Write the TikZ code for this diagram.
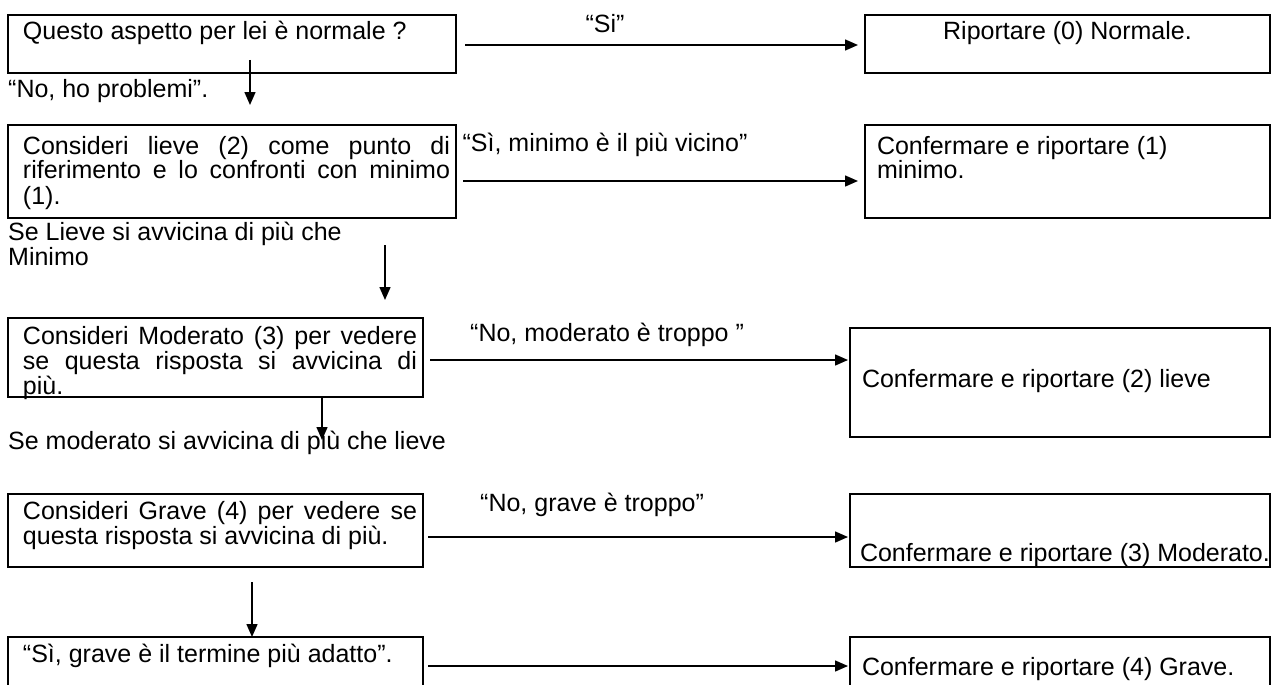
\documentclass[tikz,border=0pt]{standalone}
\usepackage{fontspec}
\setmainfont{Liberation Sans}
\usetikzlibrary{arrows.meta,calc}
% #1 left pad, #2 text width, #3 inner height, #4 inner pos, #5 right pad, #6 text
\newcommand\boxtext[6]{\hspace*{#1pt}\parbox[t][#3pt][#4]{#2pt}{\hyphenpenalty=10000\exhyphenpenalty=10000\tolerance=10000\spaceskip=\fontdimen2\font plus \fontdimen3\font minus 0pt\relax #6}\hspace*{#5pt}}
\newcommand\topstrut{\rule{0pt}{22pt}}
\begin{document}
\begin{tikzpicture}[x=1pt,y=-1pt,
  box/.style={draw,line width=1.8pt,anchor=north west,inner xsep=0pt,inner ysep=3pt,outer sep=0pt},
  lbl/.style={inner sep=0pt},
  arr/.style={line width=1.5pt,-{Triangle[length=13pt,width=11pt]}},
  font=\fontsize{25}{25}\selectfont]
\useasboundingbox (0,0) rectangle (1274,685);
\clip (0,0) rectangle (1274,685);
% left column
\node[box] (b1) at (8,15) {\boxtext{15}{427}{52}{t}{6}{\topstrut Questo aspetto per lei è normale ?}};
\node[box] (b2) at (8,125) {\boxtext{15}{427}{87}{t}{6}{\vspace*{4pt}\topstrut Consideri lieve (2) come punto di riferimento e lo confronti con minimo (1).}};
\node[box] (b3) at (8,318) {\boxtext{15}{394}{73}{t}{6}{\vspace*{1pt}\topstrut Consideri Moderato (3) per vedere se questa risposta si avvicina di più.}};
\node[box] (b4) at (8,494) {\boxtext{15}{394}{67}{t}{6}{\topstrut Consideri Grave (4) per vedere se questa risposta si avvicina di più.}};
\node[box] (b5) at (8,637) {\boxtext{15}{394}{94}{t}{6}{\topstrut “Sì, grave è il termine più adatto”.}};
% right column
\node[box] (r0) at (865,15) {\boxtext{6}{393}{52}{t}{6}{\centering\topstrut Riportare (0) Normale.}};
\node[box] (r1) at (865,125) {\boxtext{12}{387}{87}{t}{6}{\raggedright\vspace*{4pt}\topstrut Confermare e riportare (1)\\ minimo.}};
\node[box] (r2) at (850,328) {\boxtext{12}{403}{103}{c}{5}{\strut Confermare e riportare (2) lieve}};
\node[box] (r3) at (850,494) {\boxtext{10}{410}{67}{b}{0}{\mbox{Confermare e riportare (3) Moderato.}\par\vspace{-3pt}}};
\node[box] (r4) at (850,637) {\boxtext{12}{403}{94}{t}{5}{\vspace*{13pt}\topstrut Confermare e riportare (4) Grave.}};
% labels
\node[lbl] (l1) at (605,24) {“Si”};
\node[lbl,anchor=west] (l2) at (8,91) {“No, ho problemi”.};
\node[lbl] (l3) at (605,145) {“Sì, minimo è il più vicino”};
\node[lbl,anchor=north west,align=left] (l4) at (8,222) {Se Lieve si avvicina di più che\\Minimo};
\node[lbl,anchor=west] (l5) at (470,335) {“No, moderato è troppo ”};
\node[lbl,anchor=west] (l6) at (8,443) {Se moderato si avvicina di più che lieve};
\node[lbl,anchor=west] (l7) at (480,505) {“No, grave è troppo”};
% horizontal connectors
\draw[arr] ([shift={(9pt,-1pt)}]b1.east) -- ([shift={(-7pt,-1pt)}]r0.west);
\draw[arr] ([shift={(7pt,-9.5pt)}]b2.east) -- ([shift={(-7pt,-9.5pt)}]r1.west);
\draw[arr] ([shift={(7pt,-2.5pt)}]b3.east) -- ([shift={(-2pt,22.5pt)}]r2.west);
\draw[arr] ([shift={(5pt,-6.5pt)}]b4.east) -- ([shift={(-2pt,-6.5pt)}]r3.west);
\draw[arr] ([shift={(5pt,21pt)}]b5.east) -- ([shift={(-2pt,21pt)}]r4.west);
% vertical connectors
\draw[arr] ($(b1.south west)+(242,-13)$) -- ($(b2.north west)+(242,-20)$);
\draw[arr] ($(b2.south west)+(377,27)$) -- ($(b3.north west)+(377,-18)$);
\draw[arr] ($(b3.south west)+(314,0)$) -- ($(b3.south west)+(314,43)$);
\draw[arr] ($(b4.south west)+(244,15)$) -- ($(b5.north west)+(244,0)$);
\end{tikzpicture}
\end{document}
